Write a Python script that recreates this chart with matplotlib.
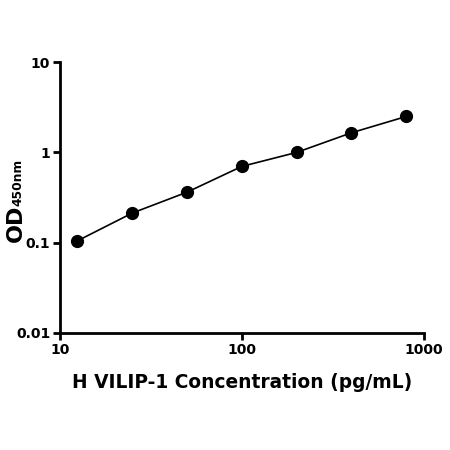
import matplotlib
matplotlib.use('Agg')
import matplotlib.pyplot as plt
from matplotlib.ticker import FixedLocator, FixedFormatter, NullLocator

# standard curve values
conc = [12.5, 25, 50, 100, 200, 400, 800]
od = [0.105, 0.213, 0.363, 0.70, 1.0, 1.65, 2.5]

x_ticks = [10, 100, 1000]
x_labels = ['10', '100', '1000']
y_ticks = [0.01, 0.1, 1, 10]
y_labels = ['0.01', '0.1', '1', '10']

plt.rcParams['font.family'] = 'DejaVu Sans'

fig = plt.figure(figsize=(4.5, 4.5), dpi=100)
ax = fig.add_axes([0.133, 0.26, 0.809, 0.602])

ax.plot(conc, od, color='black', linewidth=1.2, zorder=2)
ax.plot(conc, od, 'o', color='black', markersize=8.5, zorder=3)

ax.set_xscale('log')
ax.set_yscale('log')
ax.set_xlim(10, 1000)
ax.set_ylim(0.01, 10)

ax.xaxis.set_major_locator(FixedLocator(x_ticks))
ax.xaxis.set_major_formatter(FixedFormatter(x_labels))
ax.yaxis.set_major_locator(FixedLocator(y_ticks))
ax.yaxis.set_major_formatter(FixedFormatter(y_labels))
ax.xaxis.set_minor_locator(NullLocator())
ax.yaxis.set_minor_locator(NullLocator())

for s in ['top', 'right']:
    ax.spines[s].set_visible(False)
for s in ['left', 'bottom']:
    ax.spines[s].set_linewidth(2)

ax.tick_params(axis='both', length=5, width=2, labelsize=10, pad=2)
for lbl in ax.get_xticklabels() + ax.get_yticklabels():
    lbl.set_fontweight('bold')

ax.set_xlabel('H VILIP-1 Concentration (pg/mL)', fontsize=13.4, fontweight='bold', labelpad=12)

# y label: "OD" with a smaller "450nm" after it
fig.text(0.0344, 0.503, 'OD', rotation=90, ha='center', va='center',
         fontsize=16, fontweight='bold')
fig.text(0.039, 0.594, '450nm', rotation=90, ha='center', va='center',
         fontsize=8.8, fontweight='bold')

fig.savefig('out.png', dpi=100)
